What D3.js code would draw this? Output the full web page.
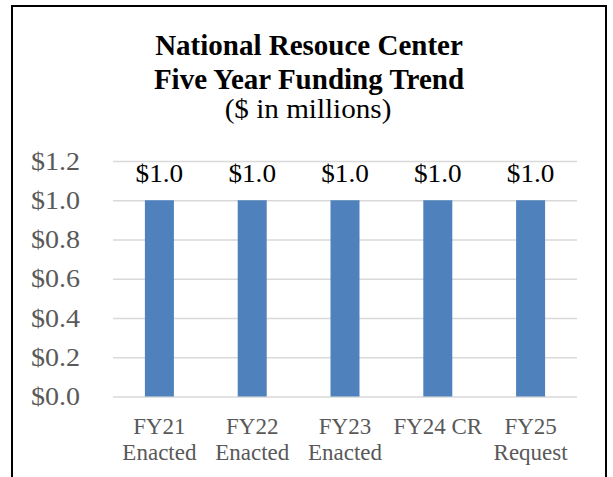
<!DOCTYPE html>
<html>
  <head>
    <meta charset="UTF-8" />
    <title>National Resouce Center Five Year Funding Trend</title>
    <script src="https://d3js.org/d3.v7.min.js"></script>
    <style>
      body {
        margin: 0;
        background: #ffffff;
      }
      svg text {
        font-family: "Liberation Serif", "Times New Roman", serif;
      }
    </style>
  </head>
  <body>
    <div id="chart"></div>
    <script>
      // Dados do gráfico
      var categories = [
        ["FY21", "Enacted"],
        ["FY22", "Enacted"],
        ["FY23", "Enacted"],
        ["FY24 CR"],
        ["FY25", "Request"]
      ];
      var funding = [1.0, 1.0, 1.0, 1.0, 1.0];
      var yTicks = [0, 0.2, 0.4, 0.6, 0.8, 1.0, 1.2];
      var titleLines = ["National Resouce Center", "Five Year Funding Trend"];
      var subtitle = "($ in millions)";

      var data = categories.map((c, i) => ({
        key: c.join(" "),
        lines: c,
        total: funding[i]
      }));

      var width = 613,
        height = 477;
      var margin = { top: 161, left: 113 };
      var plotW = 577 - margin.left,
        plotH = 396.5 - margin.top;

      // Alarga o texto na horizontal (o original é um pouco esticado)
      function stretch(sel, s) {
        sel.each(function () {
          var t = d3.select(this);
          var x0 = +t.attr("x") || 0;
          t.attr("x", 0).attr(
            "transform",
            "translate(" + x0 + ",0) scale(" + s + ",1)"
          );
        });
      }

      var svg = d3
        .select("#chart")
        .append("svg")
        .attr("width", width)
        .attr("height", height);

      // Moldura
      svg
        .append("rect")
        .attr("x", 12)
        .attr("y", 6)
        .attr("width", 594)
        .attr("height", 500)
        .attr("fill", "none")
        .attr("stroke", "#000")
        .attr("stroke-width", 2);

      // Título
      var cx = 309;
      svg
        .selectAll(".title")
        .data(titleLines)
        .enter()
        .append("text")
        .attr("class", "title")
        .attr("x", cx)
        .attr("y", (d, i) => 55 + i * 34)
        .attr("text-anchor", "middle")
        .attr("font-size", 29)
        .attr("font-weight", "bold")
        .attr("fill", "#000")
        .text((d) => d);

      svg
        .append("text")
        .attr("x", 308)
        .attr("y", 118)
        .attr("text-anchor", "middle")
        .attr("font-size", 26.5)
        .attr("fill", "#000")
        .text(subtitle)
        .call(stretch, 1.1);

      var g = svg
        .append("g")
        .attr("transform", "translate(" + margin.left + "," + margin.top + ")");

      // Escalas
      var x = d3
        .scaleBand()
        .domain(data.map((d) => d.key))
        .range([0, plotW])
        .paddingInner(0.6875)
        .paddingOuter(0.34375);
      var y = d3.scaleLinear().domain([0, 1.2]).range([plotH, 0]);

      // Linhas de grade
      g.append("g")
        .call(d3.axisLeft(y).tickValues(yTicks).tickSize(-plotW).tickFormat(""))
        .call((a) => a.select(".domain").remove())
        .selectAll("line")
        .attr("stroke", "#d9d9d9")
        .attr("stroke-width", 1.5);

      // Barras
      g.selectAll(".bar")
        .data(data)
        .enter()
        .append("rect")
        .attr("class", "bar")
        .attr("x", (d) => x(d.key))
        .attr("width", x.bandwidth())
        .attr("y", (d) => y(d.total))
        .attr("height", (d) => plotH - y(d.total))
        .attr("fill", "#4f81bd");

      // Rótulos de valor
      g.selectAll(".label")
        .data(data)
        .enter()
        .append("text")
        .attr("class", "label")
        .attr("x", (d) => x(d.key) + x.bandwidth() / 2)
        .attr("y", (d) => y(d.total) - 18.5)
        .attr("text-anchor", "middle")
        .attr("font-size", 25)
        .attr("fill", "#000")
        .text((d) => "$" + d.total.toFixed(1))
        .call(stretch, 1.09);

      // Eixo y
      var yAxis = g
        .append("g")
        .call(
          d3
            .axisLeft(y)
            .tickValues(yTicks)
            .tickSize(0)
            .tickPadding(33)
            .tickFormat((d) => "$" + d.toFixed(1))
        );
      yAxis.select(".domain").remove();
      yAxis
        .selectAll("text")
        .attr("font-size", 25.5)
        .attr("fill", "#595959")
        .attr("font-family", "Liberation Serif, Times New Roman, serif")
        .call(stretch, 1.1);

      // Eixo x
      var xAxis = g
        .append("g")
        .attr("transform", "translate(0," + plotH + ")")
        .call(d3.axisBottom(x).tickSize(0).tickFormat(""));
      xAxis.select(".domain").remove();
      xAxis
        .selectAll(".tick")
        .append("text")
        .attr("text-anchor", "middle")
        .attr("font-size", 23)
        .attr("fill", "#595959")
        .selectAll("tspan")
        .data((k) => data.find((d) => d.key === k).lines)
        .enter()
        .append("tspan")
        .attr("x", 0)
        .attr("y", (d, i) => 37 + i * 26.5)
        .text((d) => d);
    </script>
  </body>
</html>
